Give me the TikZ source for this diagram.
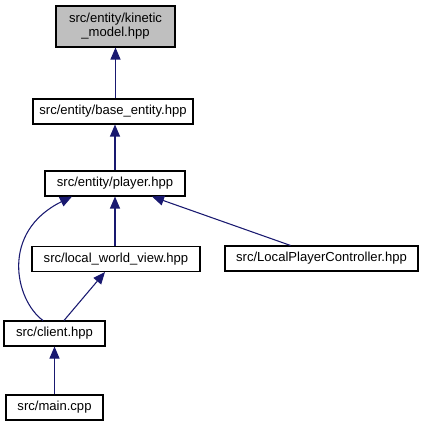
\documentclass[tikz,border=0pt]{standalone}
\usepackage{fontspec}
\setmainfont{Liberation Sans}
\usetikzlibrary{arrows.meta,calc}
\definecolor{edgeblue}{HTML}{191970}
\definecolor{hlgray}{HTML}{BFBFBF}
\tikzset{
  filebox/.style={draw=black, line width=0.8pt, fill=white, inner sep=0pt, align=center,
    font=\fontsize{9.8pt}{10.5pt}\selectfont},
  edge/.style={draw=edgeblue, line width=0.8pt, {Triangle[length=9pt,width=7.5pt]}-},
}
\begin{document}
\begin{tikzpicture}[x=0.75pt,y=-0.75pt]
\useasboundingbox (0,0) rectangle (423,427);
\node[filebox, fill=hlgray, minimum width=119*0.75pt, minimum height=41*0.75pt] (kin) at (115.5,26.5) {src/entity/kinetic\\\_model.hpp};
\node[filebox, minimum width=160*0.75pt, minimum height=25*0.75pt] (base) at (113,111.5) {src/entity/base\_entity.hpp};
\node[filebox, minimum width=140*0.75pt, minimum height=25*0.75pt] (player) at (115,183.5) {src/entity/player.hpp};
\node[filebox, minimum width=168*0.75pt, minimum height=25*0.75pt] (lwv) at (116,259) {src/local\_world\_view.hpp};
\node[filebox, minimum width=193*0.75pt, minimum height=25*0.75pt] (lpc) at (321.5,258.5) {src/LocalPlayerController.hpp};
\node[filebox, minimum width=101*0.75pt, minimum height=25*0.75pt] (client) at (54.5,333.5) {src/client.hpp};
\node[filebox, minimum width=97*0.75pt, minimum height=25*0.75pt] (main) at (54.5,407.5) {src/main.cpp};

\draw[edge] (kin.south) -- (kin.south |- base.north);
\draw[edge] (base.south -| player.north) -- (player.north);
\draw[edge] (player.south) -- (player.south |- lwv.north);
\draw[edge] ($(player.south)+(37,0)$) -- ($(lpc.north)+(-31,0)$);
\draw[edge] ($(player.south)+(-43,0)$) .. controls (0,232) and (15,300) .. ($(client.north)+(-11.5,0)$);
\draw[edge] ($(lwv.south)+(-11,0)$) -- ($(client.north)+(9.5,0)$);
\draw[edge] (client.south) -- (client.south |- main.north);
\end{tikzpicture}
\end{document}
